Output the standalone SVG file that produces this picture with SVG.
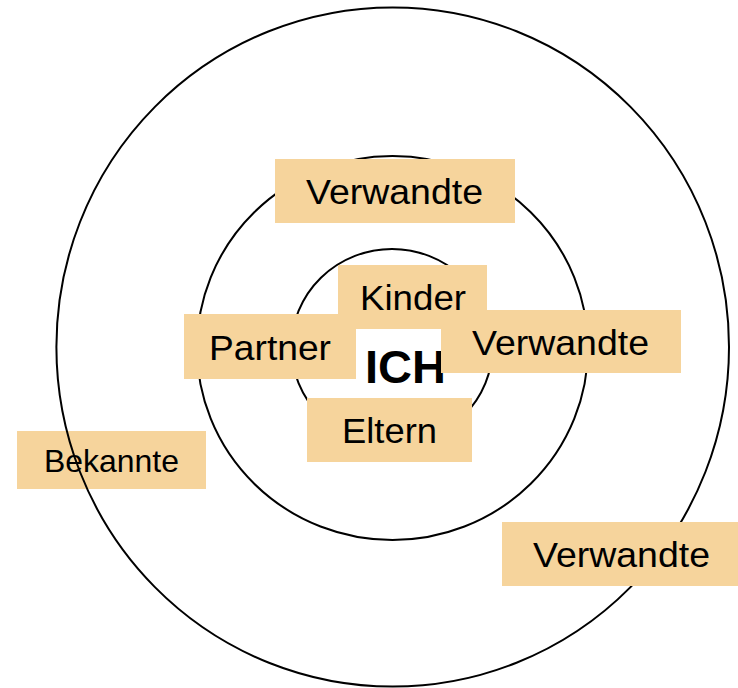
<svg xmlns="http://www.w3.org/2000/svg" width="738" height="688" viewBox="0 0 738 688">
  <style>
    .ring { fill: none; stroke: #000; stroke-width: 2; }
    .box { fill: #F6D49C; stroke: none; }
    .lbl { font-family: "Liberation Sans", Arial, sans-serif; font-size: 34.5px; fill: #000; text-anchor: middle; }
    .small { font-size: 32px; }
    .me { font-family: "Liberation Sans", Arial, sans-serif; font-size: 46px; font-weight: bold; fill: #000; }
  </style>
  <rect width="738" height="688" fill="#fff"/>

  <g id="bekannte">
    <rect class="box" x="17" y="431" width="189" height="58"/>
    <text class="lbl small" x="111.5" y="472" textLength="135" lengthAdjust="spacingAndGlyphs">Bekannte</text>
  </g>

  <g id="rings">
    <ellipse class="ring" cx="392.7" cy="347" rx="336.3" ry="339.6"/>
    <ellipse class="ring" cx="392.5" cy="348" rx="195.5" ry="192"/>
    <ellipse class="ring" cx="392" cy="347" rx="100.5" ry="98"/>
  </g>

  <g id="ich">
    <text class="me" x="365" y="383" textLength="81" lengthAdjust="spacingAndGlyphs">ICH</text>
  </g>

  <g id="verwandte-oben">
    <rect class="box" x="275" y="159" width="240" height="64"/>
    <text class="lbl" x="394.5" y="204" textLength="177" lengthAdjust="spacingAndGlyphs">Verwandte</text>
  </g>

  <g id="kinder">
    <rect class="box" x="338" y="265" width="149" height="64"/>
    <text class="lbl" x="413" y="310" textLength="106" lengthAdjust="spacingAndGlyphs">Kinder</text>
  </g>

  <g id="partner">
    <rect class="box" x="184" y="314" width="172" height="65"/>
    <text class="lbl" x="270" y="360" textLength="122" lengthAdjust="spacingAndGlyphs">Partner</text>
  </g>

  <g id="verwandte-rechts">
    <rect class="box" x="441" y="310" width="240" height="63"/>
    <text class="lbl" x="560.5" y="355" textLength="177" lengthAdjust="spacingAndGlyphs">Verwandte</text>
  </g>

  <g id="eltern">
    <rect class="box" x="307" y="398" width="165" height="64"/>
    <text class="lbl" x="389.5" y="443" textLength="95" lengthAdjust="spacingAndGlyphs">Eltern</text>
  </g>

  <g id="verwandte-unten">
    <rect class="box" x="502" y="522" width="236" height="64"/>
    <text class="lbl" x="621.5" y="567" textLength="177" lengthAdjust="spacingAndGlyphs">Verwandte</text>
  </g>

  <g id="connectors"></g>
</svg>
